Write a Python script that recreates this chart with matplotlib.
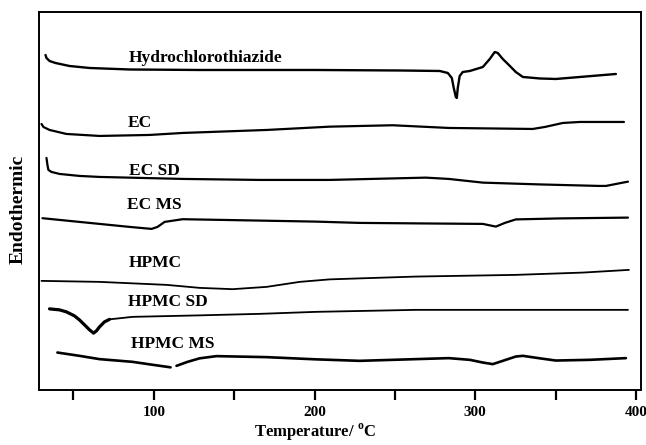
import numpy as np
import matplotlib
matplotlib.use("Agg")
import matplotlib.pyplot as plt
from matplotlib.ticker import MultipleLocator, NullFormatter

# ---------------------------------------------------------------- data
# DSC traces: temperature (deg C) and signal (arb. units,
# curves already stacked with their offsets as in the original plot).

hctz_t = [32.6, 33.2, 35.1, 38.8, 47.5, 60.0, 84.9, 128.5, 200.7, 253.0, 277.9,
          282.9, 285.4, 286.6, 287.9, 288.5, 289.1, 290.3, 292.2, 296.6, 304.7,
          309.0, 312.1, 314.0, 317.1, 320.9, 325.2, 329.6, 340.2, 350.1, 365.1, 387.5]
hctz_y = [335, 332, 329, 327, 324, 322, 320.5, 320, 320, 319.5, 319,
          317, 312, 302, 293, 292, 302, 314, 318, 319, 323,
          331, 338, 337, 331, 325, 318, 313, 311.5, 311, 313, 316]

ec_t = [30.1, 31.3, 35.1, 45.6, 66.2, 97.3, 117.9, 170.2, 209.4, 248.6, 283.5,
        335.8, 343.3, 354.5, 365.1, 392.5]
ec_y = [266, 263, 260, 256, 254, 255, 257, 260, 263.3, 264.7, 262,
        261, 263, 267, 268, 268]

ecsd_t = [33.2, 33.8, 34.4, 36.3, 41.3, 53.7, 66.2, 117.9, 165.8, 209.4, 269.2,
          283.5, 304.7, 340.2, 376.9, 381.3, 395.0]
ecsd_y = [232, 225, 220, 218, 216, 214, 213, 211, 210, 210, 212.3,
          211, 207.3, 205.5, 204, 204, 208.3]

ecms_t = [30.7, 47.5, 66.2, 84.9, 98.6, 102.3, 106.7, 117.9, 159.6, 200.7, 228.1,
          265.4, 304.7, 312.8, 318.4, 325.2, 352.6, 395.0]
ecms_y = [171.7, 169, 166, 163, 161, 163, 168, 170.7, 169.5, 168.3, 167,
          166.5, 166, 163.3, 167, 170.5, 171.5, 172.3]

hpmc_t = [30.1, 66.2, 107.9, 128.5, 149.0, 170.2, 190.7, 209.4, 228.1, 262.9,
          325.2, 366.9, 395.6]
hpmc_y = [109, 108, 105, 102, 100.7, 103, 108, 110.5, 111.5, 113.3,
          115, 117.3, 120]

hpmcsd_t = [35.1, 41.3, 45.6, 50.6, 53.7, 57.5, 60.0, 62.5, 64.3, 66.2, 69.3,
            72.4, 86.7, 128.5, 165.8, 200.7, 262.9, 395.0]
hpmcsd_y = [81, 80, 78, 74, 70, 64, 60, 56.7, 59, 63, 68,
            70.5, 73, 74.5, 76, 78, 80, 80]

# HPMC MS has a small break in the trace near 112 C (NaN gap)
hpmcms_t = [40.0, 53.7, 66.2, 86.7, 97.3, 110.4, np.nan, 114.1, 121.0, 128.5,
            138.9, 170.0, 200.7, 228.1, 283.5, 296.6, 304.7, 310.9, 317.1, 325.2,
            329.6, 340.2, 350.1, 371.3, 393.7]
hpmcms_y = [37.3, 34, 30.7, 28, 25.5, 22.5, np.nan, 24, 28, 31.5,
            33.7, 32.7, 30.5, 29, 31.7, 30, 27.3, 25.7, 29, 33.3,
            34, 31.5, 29.3, 30, 31.7]

sample_names = ["Hydrochlorothiazide", "EC", "EC SD", "EC MS",
                "HPMC", "HPMC SD", "HPMC MS"]

# ---------------------------------------------------------------- style

SERIF = ["Liberation Serif", "DejaVu Serif"]
plt.rcParams["font.family"] = SERIF
plt.rcParams["font.weight"] = "bold"
plt.rcParams["mathtext.fontset"] = "custom"
plt.rcParams["mathtext.rm"] = "Liberation Serif:bold"

fig = plt.figure(figsize=(6.46, 4.45), dpi=100)
ax = fig.add_axes([0.061, 0.124, 0.931, 0.849])

curves = [
    (hctz_t, hctz_y, 1.7),
    (ec_t, ec_y, 1.6),
    (ecsd_t, ecsd_y, 1.6),
    (ecms_t, ecms_y, 1.6),
    (hpmc_t, hpmc_y, 1.3),
    (hpmcsd_t, hpmcsd_y, 1.3),
    (hpmcms_t, hpmcms_y, 1.9),
]
for t, y, lw in curves:
    ax.plot(t, y, color="black", lw=lw, solid_capstyle="round",
            solid_joinstyle="round")

# thicker stroke on the HPMC SD dip, as in the scan
ax.plot(hpmcsd_t[:12], hpmcsd_y[:12], color="black", lw=2.3,
        solid_capstyle="round")

# label anchors (left edge, vertical centre) in data coordinates
label_pos = [(84.2, 332), (83.5, 267), (84.5, 218.5), (83.5, 184.5),
             (84.2, 127), (84.2, 88), (86, 46)]
for name, (x, y) in zip(sample_names, label_pos):
    ax.text(x, y, name, fontsize=12.5, fontweight="bold",
            ha="left", va="center")

ax.set_xlim(28.8, 403)
ax.set_ylim(0, 378)
ax.xaxis.set_major_locator(MultipleLocator(100))
ax.xaxis.set_minor_locator(MultipleLocator(50))
ax.xaxis.set_minor_formatter(NullFormatter())
ax.tick_params(axis="x", which="both", direction="out", length=7,
               width=1.6, pad=5, labelsize=11)
ax.set_yticks([])
for s in ax.spines.values():
    s.set_linewidth(1.4)

for lab in ax.get_xticklabels():
    lab.set_fontweight("bold")

fig.text(18.5 / 646, 1 - 209 / 445, "Endothermic", rotation=90,
         ha="center", va="center", fontsize=14, fontweight="bold")
fig.text(315 / 646, 2 / 445, r"Temperature/ $^{\rm o}$C",
         ha="center", va="bottom", fontsize=12, fontweight="bold")

fig.savefig("out.png", dpi=100)
plt.close(fig)
